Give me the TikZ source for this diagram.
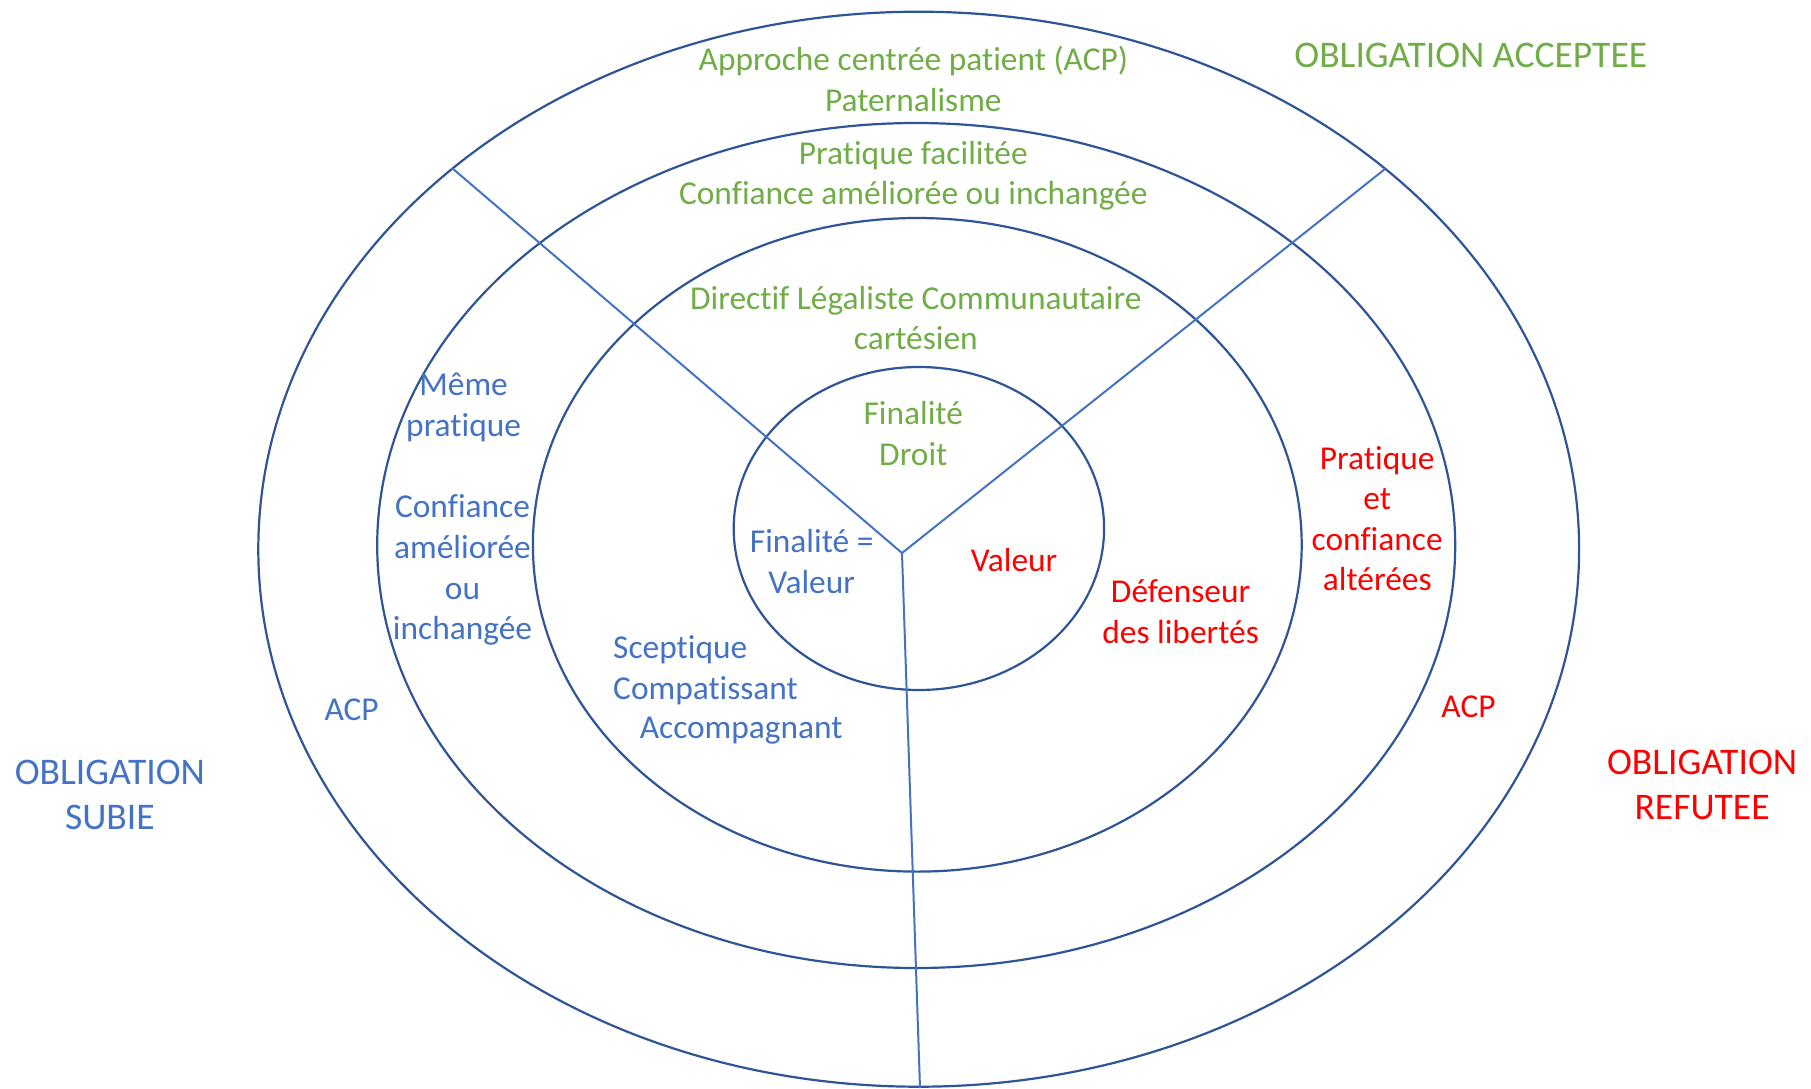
\documentclass[tikz,border=0pt]{standalone}
\usepackage{fontspec}
\setmainfont{Carlito}[Ligatures=NoCommon]
\definecolor{ringblue}{RGB}{47,85,151}
\definecolor{lineblue}{RGB}{68,114,196}
\definecolor{txtblue}{RGB}{68,114,196}
\definecolor{txtgreen}{RGB}{112,173,71}
\definecolor{txtred}{RGB}{255,0,0}
\begin{document}
\begin{tikzpicture}[x=0.5pt,y=-0.5pt,
  ring/.style={draw=ringblue,line width=1.1pt},
  spoke/.style={draw=lineblue,line width=1pt},
  lab/.style={inner sep=0pt,align=center,font=\fontsize{16.7pt}{20.3pt}\selectfont},
  big/.style={inner sep=0pt,align=center,font=\fontsize{18.8pt}{22.6pt}\selectfont},
  green/.style={text=txtgreen},
  blue/.style={text=txtblue},
  red/.style={text=txtred}]
\useasboundingbox (0,0) rectangle (1811,1088);
\fill[white] (0,0) rectangle (1811,1088);
% rings
\draw[ring] (918.7,549.2) ellipse [x radius=330.2pt, y radius=268.75pt];
\draw[ring] (916.2,545.5) ellipse [x radius=269.5pt, y radius=211.25pt];
\draw[ring] (917.3,544.8) ellipse [x radius=192.2pt, y radius=163.4pt];
\draw[ring] (918.9,528.5) ellipse [x radius=92.6pt, y radius=80.75pt];
% spokes
\coordinate (hub) at (902,553);
\coordinate (ul) at (452,168);
\coordinate (ur) at (1385,169);
\coordinate (dn) at (920,1088);
\draw[spoke] (hub) -- (ul);
\draw[spoke] (hub) -- (ur);
\draw[spoke] (hub) -- (dn);
% green
\node[lab,green] (acp) at (913.3,79.0) {Approche centrée patient (ACP)\\Paternalisme};
\node[lab,green] (prat) at (913.3,175.7) {Pratique facilitée\\Confiance améliorée ou inchangée};
\node[lab,green] (dir) at (915.8,317.9) {Directif Légaliste Communautaire\\cartésien};
\node[lab,green] (fin) at (913.3,433.3) {Finalité\\Droit};
\node[big,green] (oacc) at (1470.8,55.4) {OBLIGATION ACCEPTEE};
% blue
\node[lab,blue] (meme) at (463.6,407.5) {Même\\pratique};
\node[lab,blue] (conf) at (462.5,570.2) {Confiance\\améliorée\\ou\\inchangée};
\node[lab,blue] (acpl) at (351.6,710) {ACP};
\node[lab,blue] (finv) at (811.7,561.4) {Finalité =\\Valeur};
\node[lab,blue,anchor=west] (scep) at (612.8,650) {Sceptique};
\node[lab,blue,anchor=west] (comp) at (612.8,690.3) {Compatissant};
\node[lab,blue,anchor=west] (acco) at (639.4,730.8) {Accompagnant};
\node[big,blue] (osub) at (109.9,795) {OBLIGATION\\SUBIE};
% red
\node[lab,red] (val) at (1014.1,559.6) {Valeur};
\node[lab,red] (def) at (1180.6,611.4) {Défenseur\\des libertés};
\node[lab,red] (pec) at (1377.2,518.7) {Pratique\\et\\confiance\\altérées};
\node[lab,red] (acpr) at (1468.5,707.2) {ACP};
\node[big,red] (oref) at (1702.1,785.1) {OBLIGATION\\REFUTEE};
\end{tikzpicture}
\end{document}
